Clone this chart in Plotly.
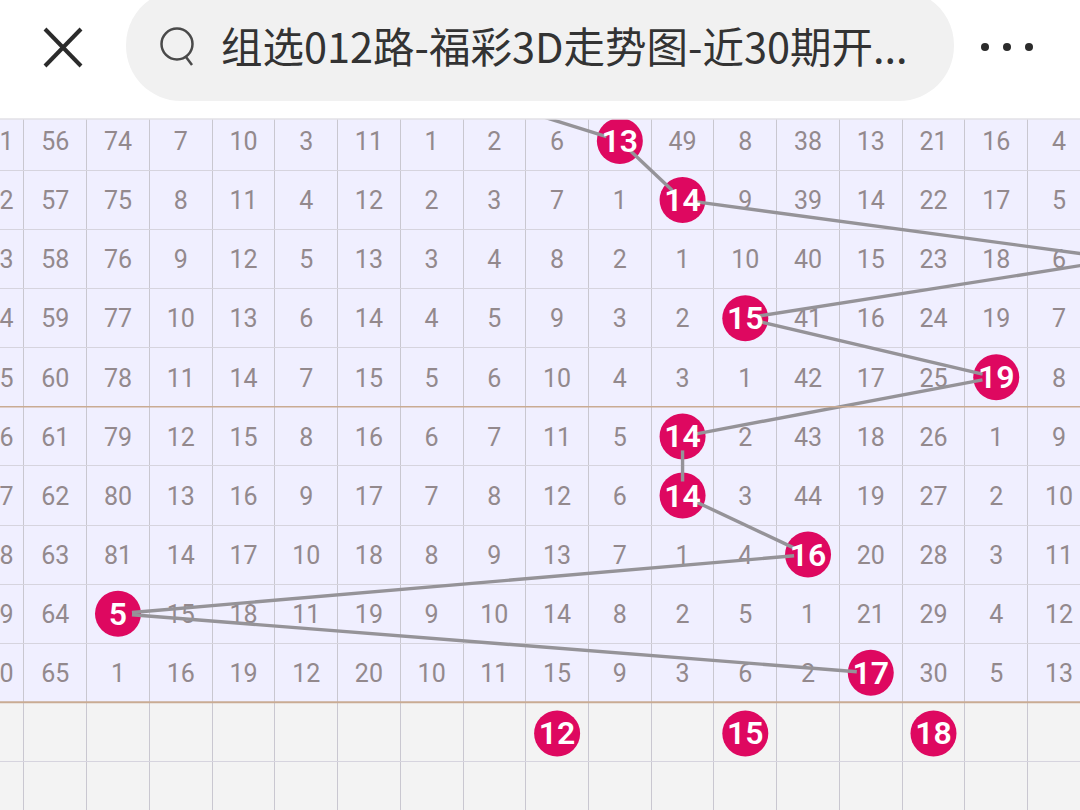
import plotly.graph_objects as go

# Sum-value columns shown on screen and the cell numbers per column (rows 1-10). None = hit cell.
columns = [3, 4, 5, 6, 7, 8, 9, 10, 11, 12, 13, 14, 15, 16, 17, 18, 19, 20]
col_3 = [101, 102, 103, 104, 105, 106, 107, 108, 109, 110]
col_4 = [56, 57, 58, 59, 60, 61, 62, 63, 64, 65]
col_5 = [74, 75, 76, 77, 78, 79, 80, 81, None, 1]
col_6 = [7, 8, 9, 10, 11, 12, 13, 14, 15, 16]
col_7 = [10, 11, 12, 13, 14, 15, 16, 17, 18, 19]
col_8 = [3, 4, 5, 6, 7, 8, 9, 10, 11, 12]
col_9 = [11, 12, 13, 14, 15, 16, 17, 18, 19, 20]
col_10 = [1, 2, 3, 4, 5, 6, 7, 8, 9, 10]
col_11 = [2, 3, 4, 5, 6, 7, 8, 9, 10, 11]
col_12 = [6, 7, 8, 9, 10, 11, 12, 13, 14, 15]
col_13 = [None, 1, 2, 3, 4, 5, 6, 7, 8, 9]
col_14 = [49, None, 1, 2, 3, None, None, 1, 2, 3]
col_15 = [8, 9, 10, None, 1, 2, 3, 4, 5, 6]
col_16 = [38, 39, 40, 41, 42, 43, 44, None, 1, 2]
col_17 = [13, 14, 15, 16, 17, 18, 19, 20, 21, None]
col_18 = [21, 22, 23, 24, 25, 26, 27, 28, 29, 30]
col_19 = [16, 17, 18, 19, None, 1, 2, 3, 4, 5]
col_20 = [4, 5, 6, 7, 8, 9, 10, 11, 12, 13]
cell_columns = [col_3, col_4, col_5, col_6, col_7, col_8, col_9, col_10, col_11,
                col_12, col_13, col_14, col_15, col_16, col_17, col_18, col_19, col_20]

# Winning sum per row (row 0 is above the visible area, row 3 runs off the right edge)
hit_rows = [0, 1, 2, 3, 4, 5, 6, 7, 8, 9, 10]
hit_values = [10, 13, 14, 21, 15, 19, 14, 14, 16, 5, 17]
# Summary row
summary_row = 11
summary_values = [12, 15, 18]

title_text = "组选012路-福彩3D走势图-近30期开..."

W, H = 1080, 810
TOP = 119
PX_X = 62.73   # pixels per column
PX_Y = 59.1    # pixels per row
X0 = 5 - 118.0 / PX_X
X1 = 5 + (W - 118.0) / PX_X
Y_TOP = 1 - (140.9 - TOP) / PX_Y
Y_BOT = 1 + (H - 140.9) / PX_Y
TEXT_SHIFT = 3.0 / PX_Y        # glyphs sit a little below the row centre
SUMMARY_SHIFT = 1.5 / PX_Y

FONT = "Roboto, sans-serif"
CELL = "#93898d"
HIT = "#de0860"
TREND = "#959398"
GRID_V = "#c9c7d0"
GRID_H = "#d6d4de"
TAN = "#c9ab93"

fig = go.Figure()

# Plain cell numbers
xs, ys, ts = [], [], []
for c, vals in zip(columns, cell_columns):
    for r, v in enumerate(vals, start=1):
        if v is not None:
            xs.append(c); ys.append(r + TEXT_SHIFT); ts.append(str(v))
fig.add_trace(go.Scatter(x=xs, y=ys, text=ts, mode="text", hoverinfo="skip",
                         textfont=dict(family=FONT, size=25, color=CELL, weight=400)))

# Hit circles (row 0 lies wholly above the visible grid and only feeds the trend line)
hx = hit_values[1:] + summary_values
hy = hit_rows[1:] + [summary_row + SUMMARY_SHIFT] * len(summary_values)
fig.add_trace(go.Scatter(x=hx, y=hy, mode="markers", hoverinfo="skip",
                         marker=dict(size=46, color=HIT, line=dict(width=0))))

# Trend line: each segment stops just inside the circles
TRIM = 14.0
lx, ly = [], []
for i in range(len(hit_rows) - 1):
    x_a, y_a = hit_values[i], hit_rows[i]
    x_b, y_b = hit_values[i + 1], hit_rows[i + 1]
    dx, dy = (x_b - x_a) * PX_X, (y_b - y_a) * PX_Y
    d = (dx * dx + dy * dy) ** 0.5
    t = TRIM / d
    lx += [x_a + (x_b - x_a) * t, x_b - (x_b - x_a) * t, None]
    ly += [y_a + (y_b - y_a) * t, y_b - (y_b - y_a) * t, None]
fig.add_trace(go.Scatter(x=lx, y=ly, mode="lines", hoverinfo="skip",
                         line=dict(color=TREND, width=3.4)))

# Hit labels
fig.add_trace(go.Scatter(x=hx, y=[v + TEXT_SHIFT for v in hy], text=[str(v) for v in hx],
                         mode="text", hoverinfo="skip",
                         textfont=dict(family=FONT, size=32, color="#ffffff", weight=600)))


def px(x):
    return x / W


def py(y):
    return 1 - y / H


def pill(x0, x1, y0, y1, r):
    k = 0.5523 * r
    pts = [
        ("M", (x0 + r, y0)), ("L", (x1 - r, y0)),
        ("C", (x1 - r + k, y0), (x1, y0 + r - k), (x1, y0 + r)),
        ("L", (x1, y1 - r)),
        ("C", (x1, y1 - r + k), (x1 - r + k, y1), (x1 - r, y1)),
        ("L", (x0 + r, y1)),
        ("C", (x0 + r - k, y1), (x0, y1 - r + k), (x0, y1 - r)),
        ("L", (x0, y0 + r)),
        ("C", (x0, y0 + r - k), (x0 + r - k, y0), (x0 + r, y0)),
    ]
    s = ""
    for p in pts:
        s += p[0] + " " + " ".join(f"{px(a):.5f},{py(b):.5f}" for a, b in p[1:]) + " "
    return s + "Z"


def paper_line(x0, y0, x1, y1, color, width):
    return dict(type="line", xref="paper", yref="paper", x0=px(x0), y0=py(y0), x1=px(x1), y1=py(y1),
                line=dict(color=color, width=width), layer="above")


def paper_circle(cx, cy, r, fill, color=None, width=0):
    return dict(type="circle", xref="paper", yref="paper", x0=px(cx - r), x1=px(cx + r),
                y0=py(cy + r), y1=py(cy - r), fillcolor=fill,
                line=dict(color=color or fill, width=width), layer="above")


shapes = [
    # Summary band
    dict(type="rect", xref="paper", yref="y", x0=0, x1=1, y0=10.5, y1=Y_BOT,
         fillcolor="#f3f3f3", line=dict(width=0), layer="below"),
    # Tan separators
    dict(type="line", xref="paper", yref="y", x0=0, x1=1, y0=5.5, y1=5.5,
         line=dict(color=TAN, width=1.5), layer="above"),
    dict(type="line", xref="paper", yref="y", x0=0, x1=1, y0=10.5, y1=10.5,
         line=dict(color=TAN, width=2), layer="above"),
    # Top edge of the grid
    dict(type="line", xref="paper", yref="paper", x0=0, x1=1, y0=py(119), y1=py(119),
         line=dict(color="#e2e1e6", width=1.5), layer="above"),
    # Header
    dict(type="path", xref="paper", yref="paper", path=pill(126, 954, -10, 101, 55),
         fillcolor="#f1f1f1", line=dict(width=0), layer="above"),
    paper_line(45, 29, 81, 66, "#2b2b2b", 4),
    paper_line(81, 29, 45, 66, "#2b2b2b", 4),
    paper_circle(177, 44, 15.5, "rgba(0,0,0,0)", "#4a4a4a", 2.5),
    paper_line(186, 57, 192, 65, "#4a4a4a", 2.5),
    paper_circle(985, 47, 4, "#2b2b2b"),
    paper_circle(1007, 47, 4, "#2b2b2b"),
    paper_circle(1029, 47, 4, "#2b2b2b"),
]

fig.update_layout(
    width=W, height=H, autosize=False,
    margin=dict(l=0, r=0, t=0, b=0, pad=0),
    paper_bgcolor="#ffffff", plot_bgcolor="#f0efff",
    showlegend=False, shapes=shapes,
    annotations=[dict(text=title_text, xref="paper", yref="paper", x=px(219), y=py(45),
                      xanchor="left", yanchor="middle", showarrow=False,
                      font=dict(family="Noto Sans CJK SC", size=41.5, color="#333333"))],
    xaxis=dict(range=[X0, X1], domain=[0, 1], tick0=0.5, dtick=1, showgrid=True,
               gridcolor=GRID_V, gridwidth=1, zeroline=False, showticklabels=False,
               ticks="", showline=False, fixedrange=True),
    yaxis=dict(range=[Y_BOT, Y_TOP], domain=[0, py(TOP)], tick0=0.5, dtick=1, showgrid=True,
               gridcolor=GRID_H, gridwidth=1, zeroline=False, showticklabels=False,
               ticks="", showline=False, fixedrange=True),
)

fig.write_html("out.html", config={"displayModeBar": False},
               post_script="document.body.style.margin='0';document.body.style.overflow='hidden';")
